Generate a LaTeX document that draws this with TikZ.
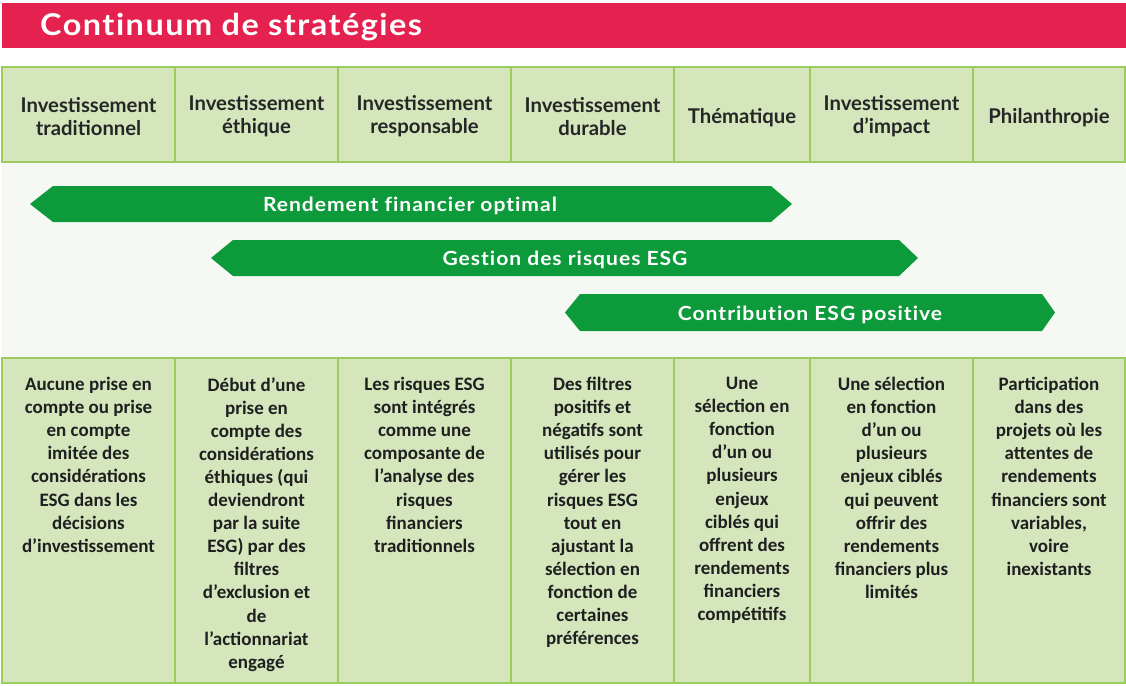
\documentclass[tikz,border=0pt]{standalone}
\usepackage{fontspec}
\setmainfont{Carlito}
\newfontfamily\hfont{Lato}
\newfontfamily\wfont{Lato}[FakeStretch=1.08, LetterSpace=5, Ligatures=NoCommon]
\definecolor{titlered}{HTML}{E4214F}
\definecolor{cellfill}{HTML}{D5E6BD}
\definecolor{cellline}{HTML}{9CCC5E}
\definecolor{bandbg}{HTML}{F6F9F3}
\definecolor{arrowgreen}{HTML}{0C9A3B}
\tikzset{
  cellbox/.style={draw=cellline, line width=2pt, fill=cellfill, inner sep=0pt},
  headtext/.style={font=\hfont\bfseries\fontsize{20.3}{23}\selectfont, align=center, text=black!85, inner sep=0pt},
  bodytext/.style={font=\bfseries\fontsize{19}{23.1}\selectfont, align=center, text=black!88, inner sep=0pt, anchor=north},
  arrowshape/.style={fill=arrowgreen, draw=none},
  arrowtext/.style={font=\wfont\bfseries\fontsize{19.5}{23}\selectfont, text=white, inner sep=0pt}
}
\begin{document}
\begin{tikzpicture}[x=1pt,y=-1pt]
\useasboundingbox (0,0) rectangle (1126,685);
\fill[white] (0,0) rectangle (1126,685);
% title
\fill[titlered] (2,3) rectangle (1126,48);
\node[anchor=west, text=white, inner sep=0pt, font=\wfont\bfseries\fontsize{30}{36}\selectfont] (title) at (40,27) {Continuum de stratégies};
% band
\fill[bandbg] (2,162) rectangle (1126,358);
% header cells
\node[cellbox, minimum width=173pt, minimum height=95pt] (h1) at (88.5,114.5) {};
\node[cellbox, minimum width=163pt, minimum height=95pt] (h2) at (256.5,114.5) {};
\node[cellbox, minimum width=173pt, minimum height=95pt] (h3) at (424.5,114.5) {};
\node[cellbox, minimum width=163pt, minimum height=95pt] (h4) at (592.5,114.5) {};
\node[cellbox, minimum width=136pt, minimum height=95pt] (h5) at (742,114.5) {};
\node[cellbox, minimum width=163pt, minimum height=95pt] (h6) at (891.5,114.5) {};
\node[cellbox, minimum width=152pt, minimum height=95pt] (h7) at (1049,114.5) {};
\node[headtext] (ht1) at ([yshift=-2pt]h1) {Investissement\\traditionnel};
\node[headtext] (ht2) at ([yshift=-2pt]h2) {Investissement\\éthique};
\node[headtext] (ht3) at ([yshift=-2pt]h3) {Investissement\\responsable};
\node[headtext] (ht4) at ([yshift=-2pt]h4) {Investissement\\durable};
\node[headtext] (ht5) at ([yshift=-3.5pt]h5) {Thématique};
\node[headtext] (ht6) at ([yshift=-2pt]h6) {Investissement\\d’impact};
\node[headtext] (ht7) at ([yshift=-3.5pt]h7) {Philanthropie};
% arrows
\fill[arrowshape] (30,204) -- (53,186) -- (771,186) -- (792,204) -- (771,222) -- (53,222) -- cycle;
\node[arrowtext] (a1) at (410,206) {Rendement financier optimal};
\fill[arrowshape] (211,258) -- (233,240) -- (899,240) -- (918,258) -- (899,276) -- (233,276) -- cycle;
\node[arrowtext] (a2) at (565,260) {Gestion des risques ESG};
\fill[arrowshape] (565,312.5) -- (580,294) -- (1042,294) -- (1055,312.5) -- (1042,331) -- (580,331) -- cycle;
\node[arrowtext] (a3) at (810,314.5) {Contribution ESG positive};
% body cells
\node[cellbox, minimum width=173pt, minimum height=325pt] (b1) at (88.5,520.5) {};
\node[cellbox, minimum width=163pt, minimum height=325pt] (b2) at (256.5,520.5) {};
\node[cellbox, minimum width=173pt, minimum height=325pt] (b3) at (424.5,520.5) {};
\node[cellbox, minimum width=163pt, minimum height=325pt] (b4) at (592.5,520.5) {};
\node[cellbox, minimum width=136pt, minimum height=325pt] (b5) at (742,520.5) {};
\node[cellbox, minimum width=163pt, minimum height=325pt] (b6) at (891.5,520.5) {};
\node[cellbox, minimum width=152pt, minimum height=325pt] (b7) at (1049,520.5) {};
\node[bodytext] (bt1) at ([yshift=-20pt]b1.north) {Aucune prise en\\compte ou prise\\en compte\\imitée des\\considérations\\ESG dans les\\décisions\\d’investissement};
\node[bodytext] (bt2) at ([yshift=-20pt]b2.north) {Début d’une\\prise en\\compte des\\considérations\\éthiques (qui\\deviendront\\par la suite\\ESG) par des\\filtres\\d’exclusion et\\de\\l’actionnariat\\engagé};
\node[bodytext] (bt3) at ([yshift=-20pt]b3.north) {Les risques ESG\\sont intégrés\\comme une\\composante de\\l’analyse des\\risques\\financiers\\traditionnels};
\node[bodytext] (bt4) at ([yshift=-20pt]b4.north) {Des filtres\\positifs et\\négatifs sont\\utilisés pour\\gérer les\\risques ESG\\tout en\\ajustant la\\sélection en\\fonction de\\certaines\\préférences};
\node[bodytext] (bt5) at ([yshift=-20pt]b5.north) {Une\\sélection en\\fonction\\d’un ou\\plusieurs\\enjeux\\ciblés qui\\offrent des\\rendements\\financiers\\compétitifs};
\node[bodytext] (bt6) at ([yshift=-20pt]b6.north) {Une sélection\\en fonction\\d’un ou\\plusieurs\\enjeux ciblés\\qui peuvent\\offrir des\\rendements\\financiers plus\\limités};
\node[bodytext] (bt7) at ([yshift=-20pt]b7.north) {Participation\\dans des\\projets où les\\attentes de\\rendements\\financiers sont\\variables,\\voire\\inexistants};
\end{tikzpicture}
\end{document}
